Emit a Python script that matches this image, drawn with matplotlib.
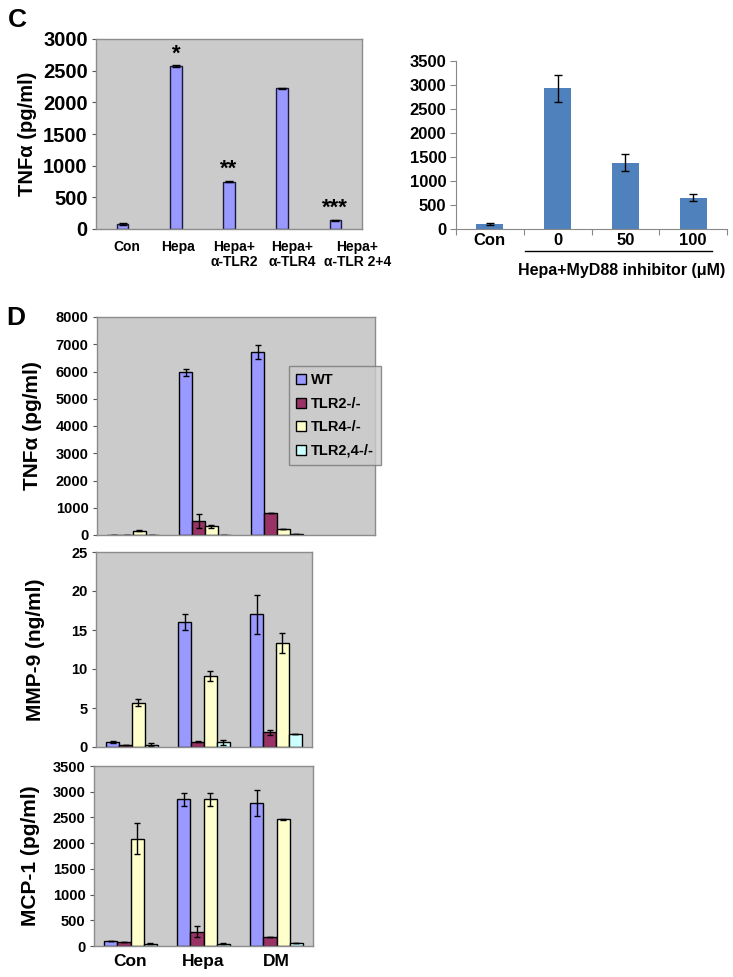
import numpy as np
import matplotlib
matplotlib.use("Agg")
import matplotlib.pyplot as plt
from matplotlib.patches import Patch
import matplotlib.transforms as mtransforms

plt.rcParams['font.family'] = ['Liberation Sans', 'DejaVu Sans']
plt.rcParams['font.weight'] = 'bold'

# ---- panel C, left: antibody blocking
c_labels = ["Con", "Hepa", "Hepa+\nα-TLR2", "Hepa+\nα-TLR4", "Hepa+\nα-TLR 2+4"]
c_vals = [80, 2570, 750, 2220, 140]
c_errs = [10, 15, 10, 12, 8]
c_stars = ["", "*", "**", "", "***"]

# ---- panel C, right: MyD88 inhibitor
m_labels = ["Con", "0", "50", "100"]
m_vals = [100, 2930, 1380, 650]
m_errs = [15, 280, 180, 70]

# ---- panel D: knockout macrophages
d_groups = ["Con", "Hepa", "DM"]
d_series = ["WT", "TLR2-/-", "TLR4-/-", "TLR2,4-/-"]
tnf_vals = [[10, 5980, 6720], [10, 500, 810], [160, 320, 220], [10, 10, 20]]
tnf_errs = [[0, 130, 270], [0, 260, 0], [30, 60, 0], [0, 0, 0]]
mmp_vals = [[0.6, 16.0, 17.0], [0.2, 0.7, 1.9], [5.7, 9.1, 13.3], [0.3, 0.6, 1.7]]
mmp_errs = [[0.15, 1.0, 2.5], [0, 0.1, 0.3], [0.5, 0.6, 1.3], [0.15, 0.3, 0]]
mcp_vals = [[100, 2850, 2780], [80, 280, 180], [2090, 2850, 2460], [40, 40, 50]]
mcp_errs = [[0, 130, 260], [0, 100, 0], [300, 130, 15], [10, 10, 0]]
d_colors = ["#9999FF", "#993366", "#FFFFCC", "#CCFFFF"]

W, H = 733, 977
fig = plt.figure(figsize=(W / 100, H / 100), dpi=100)


def px_axes(x0, y0, x1, y1):
    return fig.add_axes([x0 / W, 1 - y1 / H, (x1 - x0) / W, (y1 - y0) / H])


def excel_gray(ax, size):
    ax.set_facecolor("#CBCBCB")
    for s in ax.spines.values():
        s.set_color("#8C8C8C")
        s.set_linewidth(1.0)
    ax.tick_params(axis="y", direction="out", length=3, width=0.8, color="#555555",
                   labelsize=size, pad=3)
    for t in ax.get_yticklabels():
        t.set_fontweight("bold")


# C left
ax = px_axes(96, 39, 362, 229)
x = np.arange(len(c_vals)) + 0.5
ax.bar(x, c_vals, width=0.22, color="#9999FF", edgecolor="#1a1a40", linewidth=1.0,
       yerr=c_errs, error_kw=dict(ecolor="black", capsize=3, elinewidth=1))
for xi, v, s in zip(x, c_vals, c_stars):
    if s:
        ax.text(xi, v + 30, s, ha="center", va="bottom", fontsize=16, fontweight="bold")
ax.set_xlim(0, 5)
ax.set_ylim(0, 3000)
ax.set_yticks(np.arange(0, 3001, 500))
ax.set_xticks(x)
ax.set_xticklabels(c_labels, fontsize=10, fontweight="bold", linespacing=1.1)
ax.tick_params(axis="x", length=0, pad=8)
# the category labels drift a little to the right of the bars, as in the original
for lab, dx in zip(ax.get_xticklabels(), [4, 2, 5, 10, 22]):
    lab.set_transform(lab.get_transform() + mtransforms.ScaledTranslation(dx / 100, 0, fig.dpi_scale_trans))
excel_gray(ax, 14.5)
ax.set_ylabel("TNFα (pg/ml)", fontsize=14.5, fontweight="bold")
ax.yaxis.set_label_coords(-0.22, 0.5)
fig.text(8 / W, 1 - 20 / H, "C", fontsize=19, fontweight="bold", va="center")

# C right
ax = px_axes(456, 61, 727, 229)
x = np.arange(len(m_vals)) + 0.5
ax.bar(x, m_vals, width=0.4, color="#4F81BD", yerr=m_errs,
       error_kw=dict(ecolor="black", capsize=3, elinewidth=1))
ax.set_xlim(0, 4)
ax.set_ylim(0, 3500)
ax.set_yticks(np.arange(0, 3501, 500))
ax.set_xticks(np.arange(0, 5))
ax.set_xticklabels([])
ax.set_xticks(x, minor=True)
ax.set_xticklabels(m_labels, minor=True, fontsize=12, fontweight="bold")
ax.tick_params(axis="x", which="major", direction="out", length=4, color="#888888")
ax.tick_params(axis="x", which="minor", length=0, pad=3)
ax.tick_params(axis="y", direction="out", length=4, color="#888888", labelsize=12, pad=3)
for t in ax.get_yticklabels():
    t.set_fontweight("bold")
for s in ["top", "right"]:
    ax.spines[s].set_visible(False)
for s in ["left", "bottom"]:
    ax.spines[s].set_color("#888888")
trans = mtransforms.blended_transform_factory(ax.transData, ax.transAxes)
ax.plot([1.02, 3.78], [-0.13, -0.13], color="black", lw=1, transform=trans, clip_on=False)
ax.text(2.45, -0.245, "Hepa+MyD88 inhibitor (μM)", transform=trans, ha="center",
        va="center", fontsize=11.5, fontweight="bold")

# D panels
bw = 0.18
offs = (np.arange(4) - 1.5) * bw


def grouped(ax, vals, errs, ymax, step, ylabel, xmax):
    xg = np.arange(len(d_groups)) + 0.5
    for i in range(4):
        ax.bar(xg + offs[i], vals[i], width=bw, color=d_colors[i], edgecolor="black",
               linewidth=1.0, yerr=errs[i], label=d_series[i],
               error_kw=dict(ecolor="black", capsize=2.5, elinewidth=1))
    ax.set_xlim(0, xmax)
    ax.set_ylim(0, ymax)
    ax.set_yticks(np.arange(0, ymax + step / 2, step))
    ax.set_xticks(xg)
    ax.tick_params(axis="x", length=0)
    excel_gray(ax, 10.5)
    ax.set_ylabel(ylabel, fontsize=15, fontweight="bold")
    return xg


ax = px_axes(97, 317, 375, 535)
grouped(ax, tnf_vals, tnf_errs, 8000, 1000, "TNFα (pg/ml)", 278 / 72)
ax.set_xticklabels([])
ax.yaxis.set_label_coords(-0.198, 0.5)
leg = ax.legend(handles=[Patch(facecolor=c, edgecolor="black", label=s)
                         for c, s in zip(d_colors, d_series)],
                loc="upper left", bbox_to_anchor=(0.69, 0.775), frameon=True,
                fancybox=False, facecolor="#CBCBCB", edgecolor="#777777",
                prop=dict(size=10.5, weight="bold"), handlelength=0.7, handleheight=0.7,
                handletextpad=0.3, labelspacing=0.65, borderpad=0.5, borderaxespad=0)
fig.text(6 / W, 1 - 318 / H, "D", fontsize=19, fontweight="bold", va="center")

ax = px_axes(96, 552, 312, 747)
grouped(ax, mmp_vals, mmp_errs, 25, 5, "MMP-9 (ng/ml)", 3)
ax.set_xticklabels([])
ax.yaxis.set_label_coords(-0.236, 0.5)

ax = px_axes(94, 766, 313, 946)
grouped(ax, mcp_vals, mcp_errs, 3500, 500, "MCP-1 (pg/ml)", 3)
ax.set_xticklabels(d_groups, fontsize=12.5, fontweight="bold")
ax.tick_params(axis="x", pad=6)
ax.yaxis.set_label_coords(-0.247, 0.5)

fig.savefig("out.png", dpi=100)
